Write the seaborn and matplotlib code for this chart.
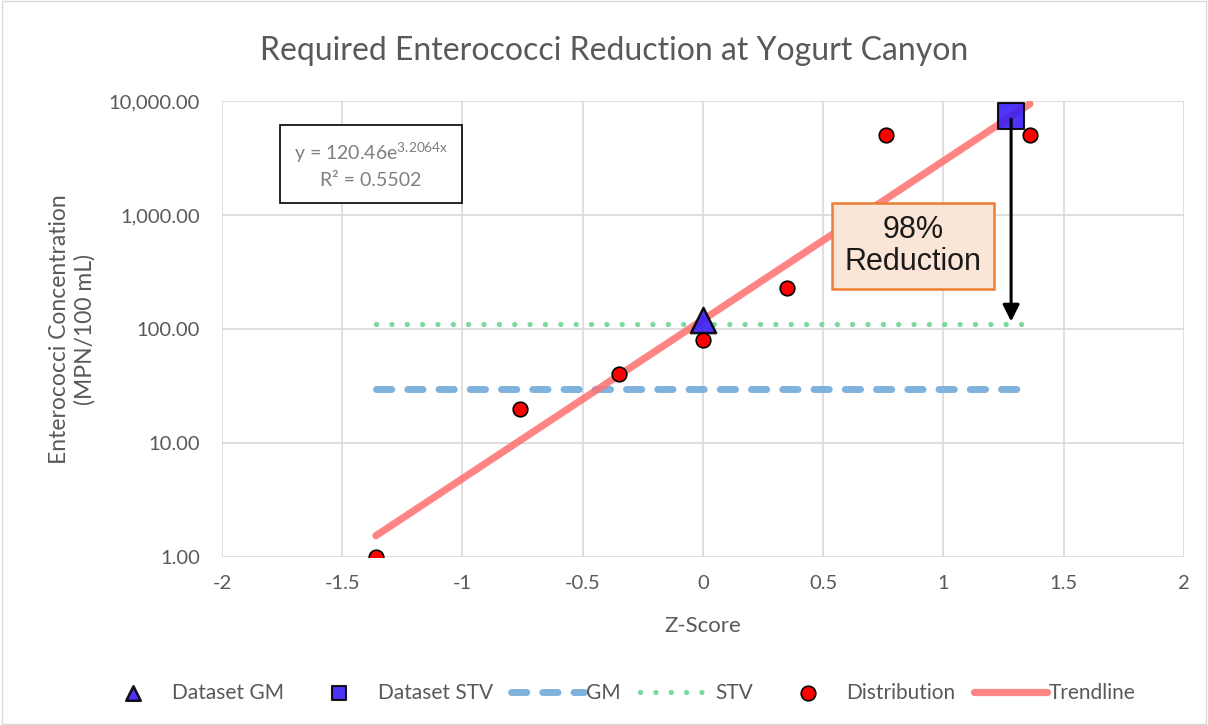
import matplotlib
matplotlib.use("Agg")
import matplotlib.pyplot as plt
import numpy as np
import pandas as pd
import seaborn as sns
from matplotlib.ticker import FuncFormatter, FixedLocator

# datos
z_scores = [-1.36, -0.76, -0.35, 0.0, 0.35, 0.76, 1.36]
concentrations = [1, 20, 40, 80, 230, 5000, 5000]
gm_point = (0.0, 120.46)
stv_point = (1.2816, 7336)
gm_limit = 30
stv_limit = 110
line_span = [-1.36, 1.36]
trend_a = 120.46
trend_b = 3.2064

sns.set_theme(style="white")
plt.rcParams["font.family"] = ["Lato", "DejaVu Sans"]
gray = "#595959"

fig = plt.figure(figsize=(12.08, 7.25), dpi=100)
ax = fig.add_axes([0.1838, 0.2317, 0.7962, 0.629])

dist_df = pd.DataFrame({"z": z_scores, "conc": concentrations})
trend_df = pd.DataFrame({"z": line_span, "conc": [trend_a * np.exp(trend_b * x) for x in line_span]})
gm_df = pd.DataFrame({"z": line_span, "conc": [gm_limit] * 2})
stv_df = pd.DataFrame({"z": line_span, "conc": [stv_limit] * 2})

sns.lineplot(data=gm_df, x="z", y="conc", ax=ax, color="#7fb2dc", lw=5,
             linestyle=(0, (2.2, 2.3)), dash_capstyle="round", label="GM", zorder=2)
sns.lineplot(data=stv_df, x="z", y="conc", ax=ax, color="#7dd8a0", lw=3.8,
             linestyle=(0, (0.01, 2.9)), dash_capstyle="round", label="STV", zorder=2)
sns.lineplot(data=trend_df, x="z", y="conc", ax=ax, color="#ff7070", lw=5.2,
             alpha=0.85, label="Trendline", zorder=3)
sns.scatterplot(data=dist_df, x="z", y="conc", ax=ax, color="#ff0000", edgecolor="black",
                linewidth=1.2, s=110, label="Distribution", zorder=5)
ax.scatter([gm_point[0]], [gm_point[1]], marker="^", s=330, color="#3a1ef5",
           edgecolor="black", linewidth=1.8, alpha=0.9, label="Dataset GM", zorder=4)
ax.scatter([stv_point[0]], [stv_point[1]], marker="s", s=330, color="#3a1ef5",
           edgecolor="black", linewidth=1.5, alpha=0.9, label="Dataset STV", zorder=4)

ax.annotate("", xy=(stv_point[0], stv_limit), xytext=(stv_point[0], stv_point[1]),
            arrowprops=dict(arrowstyle="-|>", color="black", lw=2.2, mutation_scale=25),
            zorder=6)
ax.text(0.873, 535, "98%\nReduction", ha="center", va="center", fontsize=22,
        family=["Liberation Sans", "DejaVu Sans"], color="#1a1a1a", linespacing=1.1,
        bbox=dict(boxstyle="square,pad=0.4", fc="#fbe5d6", ec="#ed7d31", lw=1.8), zorder=7)
ax.text(-1.38, 2750, "y = 120.46e$\\mathregular{^{3.2064x}}$\nR² = 0.5502", ha="center",
        va="center", fontsize=14, color="#7f7f7f", linespacing=1.5,
        bbox=dict(boxstyle="square,pad=0.7", fc="white", ec="black", lw=1.2), zorder=7)

ax.set_yscale("log")
ax.set_ylim(1, 10000)
ax.set_xlim(-2, 2)
ax.xaxis.set_major_locator(FixedLocator([-2, -1.5, -1, -0.5, 0, 0.5, 1, 1.5, 2]))
ax.xaxis.set_major_formatter(FuncFormatter(lambda v, p: f"{v:g}"))
ax.yaxis.set_major_locator(FixedLocator([1, 10, 100, 1000, 10000]))
ax.yaxis.set_minor_locator(FixedLocator([]))
ax.yaxis.set_major_formatter(FuncFormatter(lambda v, p: f"{v:,.2f}"))
ax.grid(True, color="#d9d9d9", lw=1.2)
ax.set_axisbelow(True)
for s in ax.spines.values():
    s.set_visible(False)
ax.tick_params(axis="both", length=0, labelsize=14.5, colors=gray)
ax.tick_params(axis="y", pad=16)
ax.tick_params(axis="x", pad=13)

ax.set_xlabel("Z-Score", fontsize=16, color=gray, labelpad=17)
ax.set_ylabel("Enterococci Concentration\n(MPN/100 mL)", fontsize=16.5, color=gray,
              labelpad=9, linespacing=1.25)
fig.suptitle("Required Enterococci Reduction at Yogurt Canyon", x=0.508, y=0.95,
             fontsize=23, color=gray)

handles, labels = ax.get_legend_handles_labels()
order = ["Dataset GM", "Dataset STV", "GM", "STV", "Distribution", "Trendline"]
hmap = dict(zip(labels, handles))
leg = ax.legend([hmap[k] for k in order], order, loc="upper center",
                bbox_to_anchor=(0.41, -0.235), ncol=6, frameon=False, fontsize=15,
                labelcolor=gray, handlelength=3.5, columnspacing=0.9, handletextpad=0.1)
for h in leg.legend_handles:
    if hasattr(h, "set_sizes"):
        h.set_sizes([110])

fig.patches.append(plt.Rectangle((0.002, 0.002), 0.996, 0.996, transform=fig.transFigure,
                                 fill=False, ec="#d9d9d9", lw=1))
fig.savefig("out.png", dpi=100)
